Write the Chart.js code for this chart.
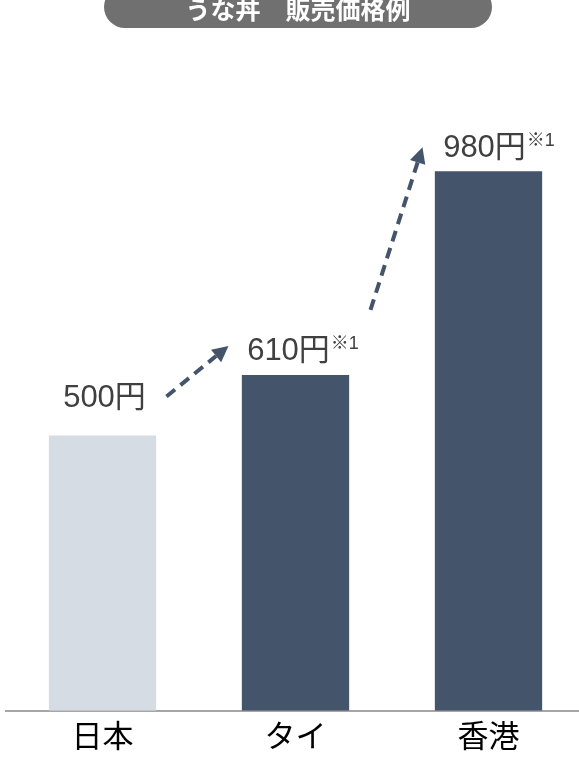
<!DOCTYPE html>
<html><head><meta charset="utf-8">
<script src="https://cdn.jsdelivr.net/npm/chart.js@4"></script>
<style>
html,body{margin:0;padding:0;background:#fff;overflow:hidden;}
#wrap{width:579px;height:760px;overflow:hidden;position:relative;}
#box{width:585px;height:760px;position:absolute;left:0;top:0;}
</style></head><body>
<div id="wrap"><div id="box"><canvas id="c"></canvas></div></div>
<script>
const title = 'うな丼　販売価格例';
const categories = ['日本', 'タイ', '香港'];
const prices = [500, 610, 980];
const priceLabels = ['500円', '610円', '980円'];
const footnotes = ['', '※1', '※1'];

const FONT = '"Liberation Sans", "Noto Sans CJK JP", sans-serif';
const barColors = ['#d6dce4', '#44546a', '#44546a'];
// style offsets (pixels) for value labels and arrows
const labelStyle = [{dx: 2, dy: -28}, {dx: -7, dy: -15}, {dx: -4, dy: -14}];
const arrowStyle = [
  {from: 0, to: 1, sx: 64, sy: -39, ex: -67, ey: -29},
  {from: 1, to: 2, sx: 75, sy: -65, ex: -66, ey: -24}
];

function drawArrow(ctx, x1, y1, x2, y2) {
  const ang = Math.atan2(y2 - y1, x2 - x1);
  const head = 16, hw = 8;
  const bx = x2 - Math.cos(ang) * head, by = y2 - Math.sin(ang) * head;
  ctx.save();
  ctx.strokeStyle = '#44546a';
  ctx.fillStyle = '#44546a';
  ctx.lineWidth = 4;
  ctx.setLineDash([11, 7]);
  ctx.beginPath(); ctx.moveTo(x1, y1); ctx.lineTo(bx, by); ctx.stroke();
  ctx.setLineDash([]);
  ctx.beginPath();
  ctx.moveTo(x2, y2);
  ctx.lineTo(bx + Math.sin(ang) * hw, by - Math.cos(ang) * hw);
  ctx.lineTo(bx - Math.sin(ang) * hw, by + Math.cos(ang) * hw);
  ctx.closePath(); ctx.fill();
  ctx.restore();
}

const overlay = {
  id: 'overlay',
  afterDraw(chart) {
    const ctx = chart.ctx;
    const xs = chart.scales.x, ys = chart.scales.y;
    // title pill
    ctx.save();
    ctx.fillStyle = '#707070';
    ctx.beginPath();
    ctx.roundRect(104, -14, 388, 42, 21);
    ctx.fill();
    ctx.fillStyle = '#ffffff';
    ctx.font = 'bold 25px "Noto Sans CJK JP", sans-serif';
    ctx.textAlign = 'center'; ctx.textBaseline = 'middle';
    ctx.fillText(title, 298, 9);
    ctx.restore();
    // value labels
    prices.forEach((v, i) => {
      const cx = xs.getPixelForValue(i) + labelStyle[i].dx;
      const y = ys.getPixelForValue(v) + labelStyle[i].dy;
      ctx.save();
      ctx.fillStyle = '#404040';
      ctx.font = '31px ' + FONT;
      ctx.textBaseline = 'alphabetic';
      const w = ctx.measureText(priceLabels[i]).width;
      ctx.textAlign = 'left';
      ctx.fillText(priceLabels[i], cx - w / 2, y);
      if (footnotes[i]) {
        ctx.font = '18px ' + FONT;
        ctx.fillText(footnotes[i], cx + w / 2 + 1, y - 11);
      }
      ctx.restore();
    });
    // arrows
    arrowStyle.forEach(a => {
      const x1 = xs.getPixelForValue(a.from) + a.sx;
      const y1 = ys.getPixelForValue(prices[a.from]) + a.sy;
      const x2 = xs.getPixelForValue(a.to) + a.ex;
      const y2 = ys.getPixelForValue(prices[a.to]) + a.ey;
      drawArrow(ctx, x1, y1, x2, y2);
    });
  }
};

new Chart(document.getElementById('c'), {
  type: 'bar',
  data: {
    labels: categories,
    datasets: [{ data: prices, backgroundColor: barColors, barPercentage: 0.556, categoryPercentage: 1 }]
  },
  options: {
    responsive: true, maintainAspectRatio: false, animation: false,
    layout: { padding: { left: 6, right: 0, top: 50, bottom: 0 } },
    plugins: { legend: { display: false }, tooltip: { enabled: false }, title: { display: false } },
    scales: {
      x: {
        grid: { display: false, drawTicks: false },
        border: { display: true, color: '#a6a6a6', width: 2 },
        ticks: { color: '#000000', font: { size: 31, family: '"Noto Sans CJK JP", sans-serif' }, padding: 6 }
      },
      y: {
        display: false, min: 0, max: 1200
      }
    }
  },
  plugins: [overlay]
});
</script>
</body></html>
